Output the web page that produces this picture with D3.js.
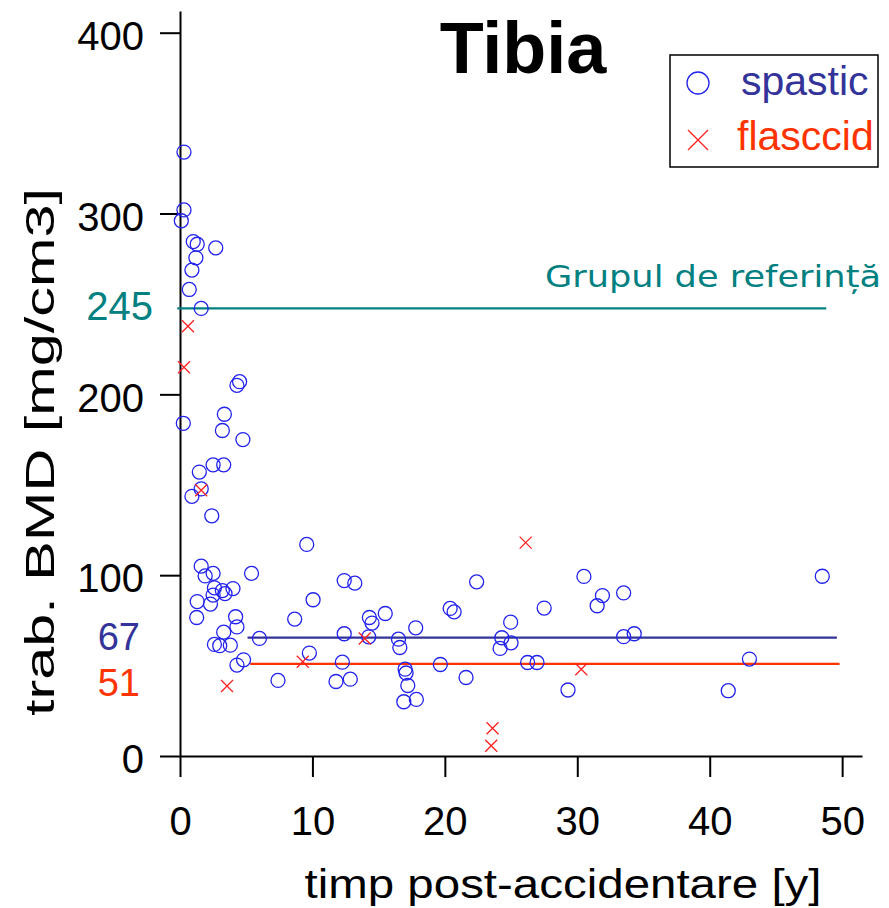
<!DOCTYPE html>
<html>
<head>
<meta charset="utf-8">
<script src="https://cdn.jsdelivr.net/npm/d3@7"></script>
<style>
  body { margin: 0; background: #fff; }
  svg { display: block; font-family: "Liberation Sans", Arial, sans-serif; }
</style>
</head>
<body>
<div id="chart"></div>
<script>
// spastic patients: [years post-injury, trab. BMD]
var spastic = [
  [0.3,334],[0.3,302],[0.1,296],[1.0,284.5],[1.3,283],[2.7,281],[1.2,275.5],[0.9,268.7],[0.7,258],[1.6,247.5],
  [4.5,207],[4.3,205],[0.25,184],[3.35,189],[3.2,180],[4.75,175],[2.5,161],[3.3,161],[1.46,157],[1.6,147.7],
  [0.9,143.6],[2.4,132.8],[1.6,105],[1.9,99.6],[2.5,101],[5.4,101],[2.6,93],[3.2,91.5],[3.4,89.8],[4.0,92.6],
  [2.5,89],[1.3,85.4],[2.3,84],[1.26,76.6],[4.2,77],[4.3,71.4],[3.3,68.5],[2.6,61.7],[3.0,61],[3.8,61.3],
  [6.0,65],[4.8,53.2],[4.3,50.3],[7.4,41.8],
  [9.57,117],[12.4,97],[13.2,95.6],[10.05,86.4],[8.66,75.7],[14.3,76.6],[14.5,73.5],[15.5,78.8],[17.8,70.9],
  [12.4,67.6],[14.25,65.9],[16.5,64.6],[16.6,60],[9.77,56.9],[12.26,51.9],[17.0,48],[17.07,45.9],[17.2,39],
  [11.78,41.2],[12.86,42.5],[16.9,30],[17.85,31.3],
  [22.4,96.3],[20.4,81.6],[20.7,79.7],[27.5,81.8],[24.97,74],[24.3,65.4],[25.0,62.6],[24.17,59.5],[19.66,50.6],
  [26.25,51.7],[26.96,51.7],[21.6,43.4],[29.3,36.5],
  [30.5,99.3],[31.9,88.7],[31.5,83.1],[33.5,90.2],[33.5,66],[34.3,67.6],[43.0,53.6],[41.4,36.1],[48.5,99.4]
];
// flasccid patients
var flasccid = [
  [0.6,237.7],[0.3,215],[1.6,147],[3.55,38.7],[13.95,65],[9.27,52.1],[26.1,118],[23.6,15.3],[23.5,5.7],[30.3,48]
];
var xTicks = [0, 10, 20, 30, 40, 50];
var yTicks = [0, 100, 200, 300, 400];
// mean lines: [x start, x end, y level, label]
var refLines = [
  { x0: -0.2, x1: 48.8, y: 247.5, label: "245", color: "#008080" },
  { x0: 5.1, x1: 49.6, y: 65.5, label: "67", color: "#333399" },
  { x0: 5.3, x1: 49.8, y: 51, label: "51", color: "#ff3300" }
];
var refText = "Grupul de referință";

var width = 889, height = 908;
var svg = d3.select("#chart").append("svg")
  .attr("width", width)
  .attr("height", height);

var x = d3.scaleLinear().domain([0, 51.5]).range([180, 862]);
var y = d3.scaleLinear().domain([0, 412]).range([756, 11]);

// axes
var xAxis = svg.append("g")
  .attr("transform", "translate(0," + y(0) + ")")
  .call(d3.axisBottom(x).tickValues(xTicks).tickSize(21).tickSizeOuter(0).tickPadding(30));
var yAxis = svg.append("g")
  .attr("transform", "translate(" + x(0) + ",0)")
  .call(d3.axisLeft(y).tickValues(yTicks).tickSize(20).tickSizeOuter(0).tickPadding(16));

[xAxis, yAxis].forEach(function(g) {
  g.select(".domain").attr("stroke", "#000").attr("stroke-width", 2);
  g.selectAll(".tick line").attr("stroke", "#000").attr("stroke-width", 2);
  g.selectAll(".tick text")
    .attr("fill", "#000")
    .attr("font-size", 40)
    .attr("font-family", "Liberation Sans, Arial, sans-serif");
});
yAxis.selectAll(".tick text").attr("dy", "0.42em");

// reference / mean lines
svg.selectAll("line.ref")
  .data(refLines)
  .enter()
  .append("line")
  .attr("class", "ref")
  .attr("x1", function(d) { return x(d.x0); })
  .attr("x2", function(d) { return x(d.x1); })
  .attr("y1", function(d) { return y(d.y); })
  .attr("y2", function(d) { return y(d.y); })
  .attr("stroke", function(d) { return d.color; })
  .attr("stroke-width", 2.2);

svg.selectAll("text.reflabel")
  .data(refLines)
  .enter()
  .append("text")
  .attr("class", "reflabel")
  .attr("x", function(d, i) { return i == 0 ? 153 : 140; })
  .attr("y", function(d, i) { return i == 0 ? 320 : (i == 1 ? 650 : 696); })
  .attr("text-anchor", "end")
  .attr("font-size", function(d, i) { return i == 0 ? 40 : 38; })
  .attr("fill", function(d) { return d.color; })
  .text(function(d) { return d.label; });

svg.append("text")
  .attr("x", 545)
  .attr("y", 287)
  .attr("font-size", 31)
  .attr("font-family", "'Comic Sans MS', 'DejaVu Sans', sans-serif")
  .attr("textLength", 336)
  .attr("lengthAdjust", "spacingAndGlyphs")
  .attr("fill", "#008080")
  .text(refText);

// points
svg.selectAll("circle.sp")
  .data(spastic)
  .enter()
  .append("circle")
  .attr("class", "sp")
  .attr("cx", function(d) { return x(d[0]); })
  .attr("cy", function(d) { return y(d[1]); })
  .attr("r", 7)
  .attr("fill", "none")
  .attr("stroke", "#2222ee")
  .attr("stroke-width", 1.3);

var cs = 6;
svg.selectAll("path.fl")
  .data(flasccid)
  .enter()
  .append("path")
  .attr("class", "fl")
  .attr("d", function(d) {
    var px = x(d[0]), py = y(d[1]);
    return "M" + (px - cs) + "," + (py - cs) + "L" + (px + cs) + "," + (py + cs) +
           "M" + (px - cs) + "," + (py + cs) + "L" + (px + cs) + "," + (py - cs);
  })
  .attr("fill", "none")
  .attr("stroke", "#ff2020")
  .attr("stroke-width", 1.3);

// title
svg.append("text")
  .attr("x", 523)
  .attr("y", 73)
  .attr("text-anchor", "middle")
  .attr("font-size", 72)
  .attr("font-weight", "bold")
  .text("Tibia");

// axis titles (stretched like the original)
svg.append("text")
  .attr("x", 563)
  .attr("y", 898)
  .attr("text-anchor", "middle")
  .attr("font-size", 41)
  .attr("textLength", 517)
  .attr("lengthAdjust", "spacingAndGlyphs")
  .text("timp post-accidentare [y]");

svg.append("text")
  .attr("transform", "translate(54,452) rotate(-90)")
  .attr("text-anchor", "middle")
  .attr("font-size", 41)
  .attr("textLength", 528)
  .attr("lengthAdjust", "spacingAndGlyphs")
  .text("trab. BMD [mg/cm3]");

// legend
var legend = svg.append("g");
legend.append("rect")
  .attr("x", 670).attr("y", 55)
  .attr("width", 208).attr("height", 112)
  .attr("fill", "#fff")
  .attr("stroke", "#000")
  .attr("stroke-width", 1.5);
legend.append("circle")
  .attr("cx", 698).attr("cy", 83).attr("r", 11)
  .attr("fill", "none").attr("stroke", "#2222ee").attr("stroke-width", 1.3);
legend.append("path")
  .attr("d", "M688,130L708,150M688,150L708,130")
  .attr("fill", "none").attr("stroke", "#ff2020").attr("stroke-width", 1.3);
legend.append("text")
  .attr("x", 741).attr("y", 95)
  .attr("font-size", 41)
  .attr("fill", "#333399")
  .text("spastic");
legend.append("text")
  .attr("x", 737).attr("y", 150)
  .attr("font-size", 41)
  .attr("fill", "#ff3300")
  .text("flasccid");
</script>
</body>
</html>
